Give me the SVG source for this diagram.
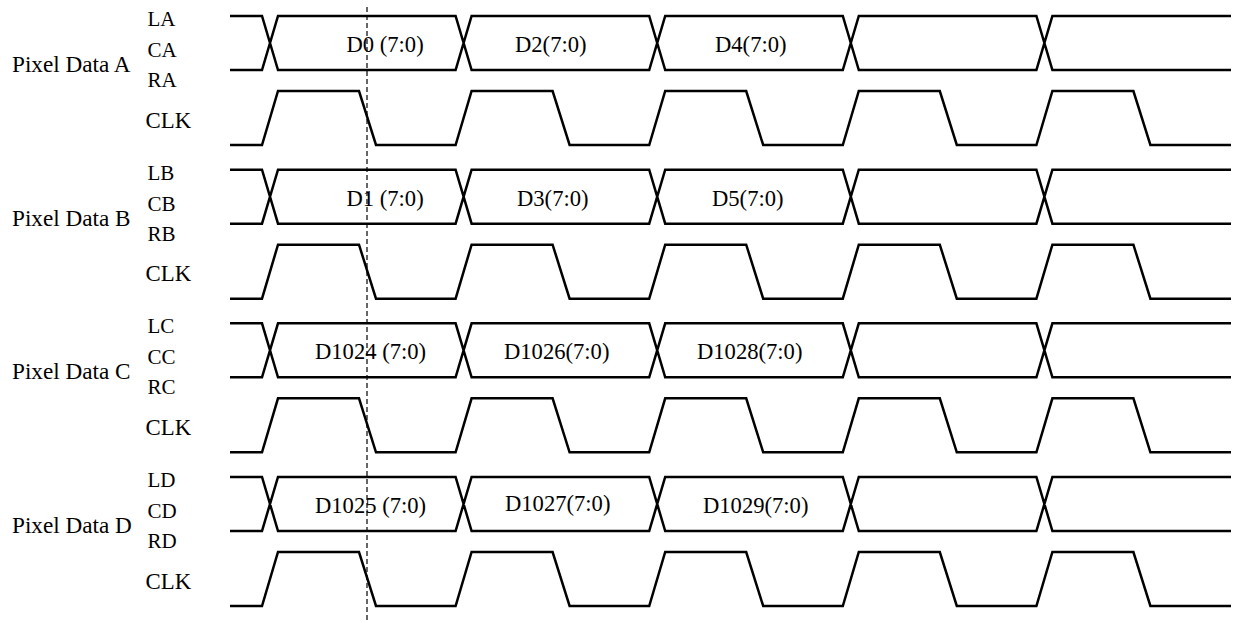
<svg xmlns="http://www.w3.org/2000/svg" xmlns:xlink="http://www.w3.org/1999/xlink" width="1234" height="620" viewBox="0 0 1234 620">
<style>
  .sig { fill: none; stroke: #000; stroke-width: 2.5; stroke-linejoin: miter; }
  .lbl { font-family: "Liberation Serif", "Times New Roman", serif; font-size: 21px; fill: #000; }
  .clk { font-family: "Liberation Serif", "Times New Roman", serif; font-size: 22.8px; fill: #000; }
  .grp { font-family: "Liberation Serif", "Times New Roman", serif; font-size: 23.2px; fill: #000; }
  .dat { font-family: "Liberation Serif", "Times New Roman", serif; font-size: 22.6px; fill: #000; }
  .cursor { fill: none; stroke: #000; stroke-width: 1.2; stroke-dasharray: 5 3; }
</style>
<defs>
  <path id="bus" class="sig" d="M230,0 H262 L278,54 H455.6 L471.6,0 H649.2 L665.2,54 H842.8 L858.8,0 H1036.4 L1052.4,54 H1231 M230,54 H262 L278,0 H455.6 L471.6,54 H649.2 L665.2,0 H842.8 L858.8,54 H1036.4 L1052.4,0 H1231"/>
  <path id="clkwave" class="sig" d="M230,129 H262 L278,75 H359 L376,129 H455.6 L471.6,75 H552.6 L569.6,129 H649.2 L665.2,75 H746.2 L763.2,129 H842.8 L858.8,75 H939.8 L956.8,129 H1036.4 L1052.4,75 H1133.4 L1150.4,129 H1231"/>
</defs>

<g id="pixel-data-a" transform="translate(0,16)">
  <text class="grp" x="12" y="56">Pixel Data A</text>
  <text class="lbl" x="147.5" y="10">LA</text>
  <text class="lbl" x="147.5" y="41">CA</text>
  <text class="lbl" x="147.5" y="71">RA</text>
  <text class="clk" x="145.5" y="111.5">CLK</text>
  <use xlink:href="#bus"/>
  <use xlink:href="#clkwave"/>
  <text class="dat" x="346.5" y="36">D0 (7:0)</text>
  <text class="dat" x="515" y="36">D2(7:0)</text>
  <text class="dat" x="715" y="36">D4(7:0)</text>
</g>

<g id="pixel-data-b" transform="translate(0,169.7)">
  <text class="grp" x="12" y="56">Pixel Data B</text>
  <text class="lbl" x="147.5" y="10">LB</text>
  <text class="lbl" x="147.5" y="41">CB</text>
  <text class="lbl" x="147.5" y="71">RB</text>
  <text class="clk" x="145.5" y="111.5">CLK</text>
  <use xlink:href="#bus"/>
  <use xlink:href="#clkwave"/>
  <text class="dat" x="346.5" y="36">D1 (7:0)</text>
  <text class="dat" x="517" y="36">D3(7:0)</text>
  <text class="dat" x="712" y="36">D5(7:0)</text>
</g>

<g id="pixel-data-c" transform="translate(0,323.3)">
  <text class="grp" x="12" y="56">Pixel Data C</text>
  <text class="lbl" x="147.5" y="10">LC</text>
  <text class="lbl" x="147.5" y="41">CC</text>
  <text class="lbl" x="147.5" y="71">RC</text>
  <text class="clk" x="145.5" y="111.5">CLK</text>
  <use xlink:href="#bus"/>
  <use xlink:href="#clkwave"/>
  <text class="dat" x="315" y="36">D1024 (7:0)</text>
  <text class="dat" x="504" y="36">D1026(7:0)</text>
  <text class="dat" x="697" y="36">D1028(7:0)</text>
</g>

<g id="pixel-data-d" transform="translate(0,477)">
  <text class="grp" x="12" y="56">Pixel Data D</text>
  <text class="lbl" x="147.5" y="10">LD</text>
  <text class="lbl" x="147.5" y="41">CD</text>
  <text class="lbl" x="147.5" y="71">RD</text>
  <text class="clk" x="145.5" y="111.5">CLK</text>
  <use xlink:href="#bus"/>
  <use xlink:href="#clkwave"/>
  <text class="dat" x="315" y="36">D1025 (7:0)</text>
  <text class="dat" x="505" y="34">D1027(7:0)</text>
  <text class="dat" x="703" y="36">D1029(7:0)</text>
</g>

<g id="connectors">
  <line class="cursor" x1="367" y1="7" x2="367" y2="620"/>
</g>
</svg>
